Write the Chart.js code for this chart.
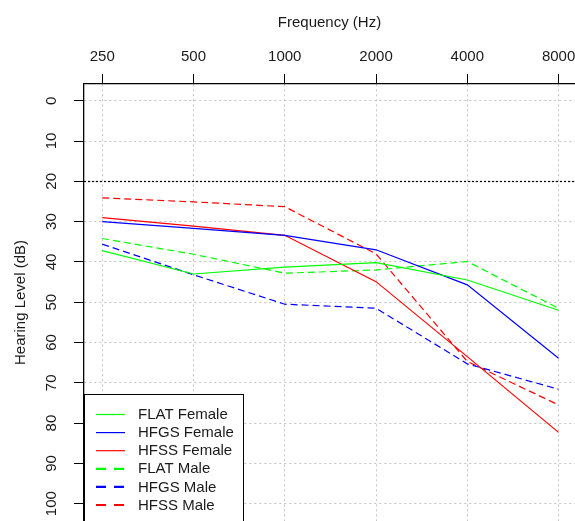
<html>
<head>
<style>
  body { margin: 0; background: #fff; overflow: hidden; }
  #wrap { width: 575px; height: 521px; }
</style>
</head>
<body>
<div id="wrap"><canvas id="audio" width="575" height="521"></canvas></div>
<script src="https://cdn.jsdelivr.net/npm/chart.js@4/dist/chart.umd.min.js"></script>
<script>
// audiogram: mean hearing level per frequency, by loss type and sex
var freqs = [250, 500, 1000, 2000, 4000, 8000];
var flatFemale = [37.2, 43.0, 41.3, 40.2, 44.5, 52.0];
var hfgsFemale = [30.0, 31.7, 33.4, 37.0, 45.7, 63.9];
var hfssFemale = [29.0, 31.1, 33.4, 44.9, 63.5, 82.3];
var flatMale = [34.2, 38.1, 42.8, 42.0, 39.9, 51.5];
var hfgsMale = [35.6, 43.2, 50.5, 51.5, 65.3, 71.6];
var hfssMale = [24.1, 25.1, 26.3, 38.0, 64.7, 75.5];
var levelTicks = [0, 10, 20, 30, 40, 50, 60, 70, 80, 90, 100];
var normalLimit = 20;

var FONT = 'Liberation Sans, Arial, sans-serif';
var TXT = '#1a1a1a';

function pts(vals) {
  return freqs.map(function(f, i) { return { x: f, y: vals[i] }; });
}

function series(label, vals, color, dashed) {
  return {
    label: label,
    data: pts(vals),
    borderColor: color,
    backgroundColor: color,
    borderWidth: 1.2,
    borderDash: dashed ? [7, 4] : [],
    pointRadius: 0,
    tension: 0,
    fill: false,
    male: dashed
  };
}

// dotted reference line at 20 dB
var limitLine = {
  id: 'limitLine',
  beforeDatasetsDraw: function(chart) {
    var ctx = chart.ctx, a = chart.chartArea;
    var y = Math.round(chart.scales.y.getPixelForValue(normalLimit)) + 0.5;
    ctx.save();
    ctx.strokeStyle = '#000';
    ctx.lineWidth = 1.2;
    ctx.setLineDash([2, 2]);
    ctx.beginPath();
    ctx.moveTo(a.left, y);
    ctx.lineTo(a.right, y);
    ctx.stroke();
    ctx.restore();
  }
};

// boxed legend in the lower left corner of the plot
var boxLegend = {
  id: 'boxLegend',
  afterDraw: function(chart) {
    var ctx = chart.ctx, a = chart.chartArea;
    var x0 = a.left + 0.5, y0 = 394.5, w = 159, h = 160;
    ctx.save();
    ctx.fillStyle = '#fff';
    ctx.fillRect(x0, y0, w, h);
    ctx.strokeStyle = '#000';
    ctx.lineWidth = 1;
    ctx.strokeRect(x0, y0, w, h);
    ctx.font = '15px ' + FONT;
    ctx.textBaseline = 'middle';
    ctx.textAlign = 'left';
    chart.data.datasets.forEach(function(ds, i) {
      var y = 414.5 + i * 18.1;
      ctx.strokeStyle = ds.borderColor;
      if (ds.male) {
        ctx.lineWidth = 2.2;
        ctx.setLineDash([10, 8]);
      } else {
        ctx.lineWidth = 1.2;
        ctx.setLineDash([]);
      }
      ctx.beginPath();
      ctx.moveTo(96, y);
      ctx.lineTo(125, y);
      ctx.stroke();
      ctx.fillStyle = TXT;
      ctx.fillText(ds.label, 138, y + 0.5);
    });
    ctx.restore();
  }
};

new Chart(document.getElementById('audio'), {
  type: 'line',
  data: {
    datasets: [
      series('FLAT Female', flatFemale, '#00ff00', false),
      series('HFGS Female', hfgsFemale, '#0000ff', false),
      series('HFSS Female', hfssFemale, '#ff0000', false),
      series('FLAT Male', flatMale, '#00ff00', true),
      series('HFGS Male', hfgsMale, '#0000ff', true),
      series('HFSS Male', hfssMale, '#ff0000', true)
    ]
  },
  options: {
    responsive: false,
    animation: false,
    events: [],
    layout: { padding: 0 },
    plugins: { legend: { display: false }, tooltip: { enabled: false } },
    scales: {
      x: {
        type: 'logarithmic',
        position: 'top',
        min: 250 * Math.pow(2, -0.2),
        max: 250 * Math.pow(2, 5.18),
        afterBuildTicks: function(s) { s.ticks = freqs.map(function(v) { return { value: v }; }); },
        afterFit: function(s) { s.height = 84; s.paddingLeft = 0; s.paddingRight = 0; },
        ticks: {
          color: TXT,
          font: { family: FONT, size: 15 },
          padding: 8,
          maxRotation: 0,
          autoSkip: false,
          callback: function(v) { return String(v); }
        },
        grid: {
          color: '#c4c4c4',
          lineWidth: 1,
          tickLength: 10,
          tickColor: '#000',
          tickWidth: 1,
          tickBorderDash: []
        },
        border: { display: true, color: '#000', width: 1.3, dash: [2, 3] },
        title: {
          display: true,
          text: 'Frequency (Hz)',
          color: TXT,
          font: { family: FONT, size: 15 },
          padding: { top: 14, bottom: 0 }
        }
      },
      y: {
        type: 'linear',
        reverse: true,
        min: -4.15,
        max: 104.3,
        afterBuildTicks: function(s) { s.ticks = levelTicks.map(function(v) { return { value: v }; }); },
        afterFit: function(s) { s.width = 84; s.paddingTop = 0; s.paddingBottom = 0; },
        ticks: {
          color: TXT,
          font: { family: FONT, size: 15 },
          padding: 10,
          minRotation: 90,
          maxRotation: 90,
          crossAlign: 'center',
          autoSkip: false
        },
        grid: {
          color: '#c4c4c4',
          lineWidth: 1,
          tickLength: 10,
          tickColor: '#000',
          tickWidth: 1,
          tickBorderDash: []
        },
        border: { display: true, color: '#000', width: 1.3, dash: [2, 3] },
        title: {
          display: true,
          text: 'Hearing Level (dB)',
          color: TXT,
          font: { family: FONT, size: 15 },
          padding: { top: 12, bottom: 0 }
        }
      }
    }
  },
  plugins: [limitLine, boxLegend]
});
</script>
</body>
</html>
